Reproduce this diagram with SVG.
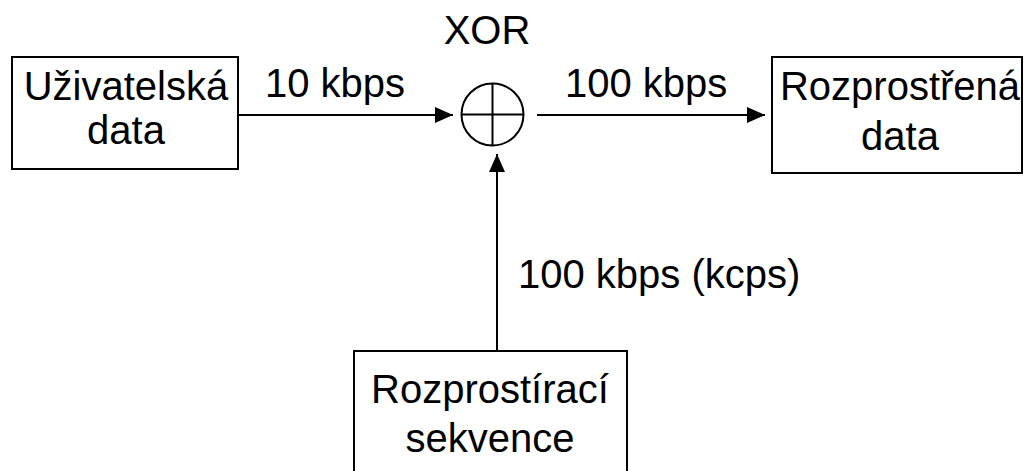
<svg xmlns="http://www.w3.org/2000/svg" width="1026" height="471" viewBox="0 0 1026 471">
  <style>
    .box { fill: #fff; stroke: #000; stroke-width: 2; }
    .lbl { font-family: "Liberation Sans", Arial, sans-serif; font-size: 40px; fill: #000; }
    .mid { text-anchor: middle; }
    .wire { stroke: #000; stroke-width: 2; fill: none; }
  </style>
  <defs>
    <marker id="arrow" viewBox="0 0 18 16" refX="18" refY="8" markerWidth="18" markerHeight="16" markerUnits="userSpaceOnUse" orient="auto">
      <path d="M0,0 L18,8 L0,16 Z" fill="#000"/>
    </marker>
  </defs>

  <rect width="1026" height="471" fill="#fff"/>

  <g id="connectors">
    <line class="wire" x1="238" y1="115" x2="453" y2="115" marker-end="url(#arrow)"/>
    <line class="wire" x1="537" y1="115" x2="765" y2="115" marker-end="url(#arrow)"/>
    <line class="wire" x1="497" y1="351" x2="497" y2="154" marker-end="url(#arrow)"/>
    <text class="lbl" x="265" y="97">10 kbps</text>
    <text class="lbl" x="565" y="97">100 kbps</text>
    <text class="lbl" x="518" y="288">100 kbps (kcps)</text>
  </g>

  <g id="user-data">
    <rect class="box" x="12" y="57" width="226" height="112"/>
    <text class="lbl mid" x="126" y="100">Uživatelská</text>
    <text class="lbl mid" x="126" y="144">data</text>
  </g>

  <g id="xor">
    <circle class="wire" cx="492.5" cy="114.5" r="31"/>
    <line class="wire" x1="461.5" y1="114.5" x2="523.5" y2="114.5"/>
    <line class="wire" x1="492.5" y1="83.5" x2="492.5" y2="145.5"/>
    <text class="lbl mid" x="487" y="44">XOR</text>
  </g>

  <g id="spread-data">
    <rect class="box" x="772" y="57" width="250" height="116"/>
    <text class="lbl mid" x="900" y="100">Rozprostřená</text>
    <text class="lbl mid" x="900" y="150">data</text>
  </g>

  <g id="spreading-sequence">
    <rect class="box" x="354" y="351" width="273" height="130"/>
    <text class="lbl mid" x="490" y="403">Rozprostírací</text>
    <text class="lbl mid" x="490" y="452">sekvence</text>
  </g>
</svg>
